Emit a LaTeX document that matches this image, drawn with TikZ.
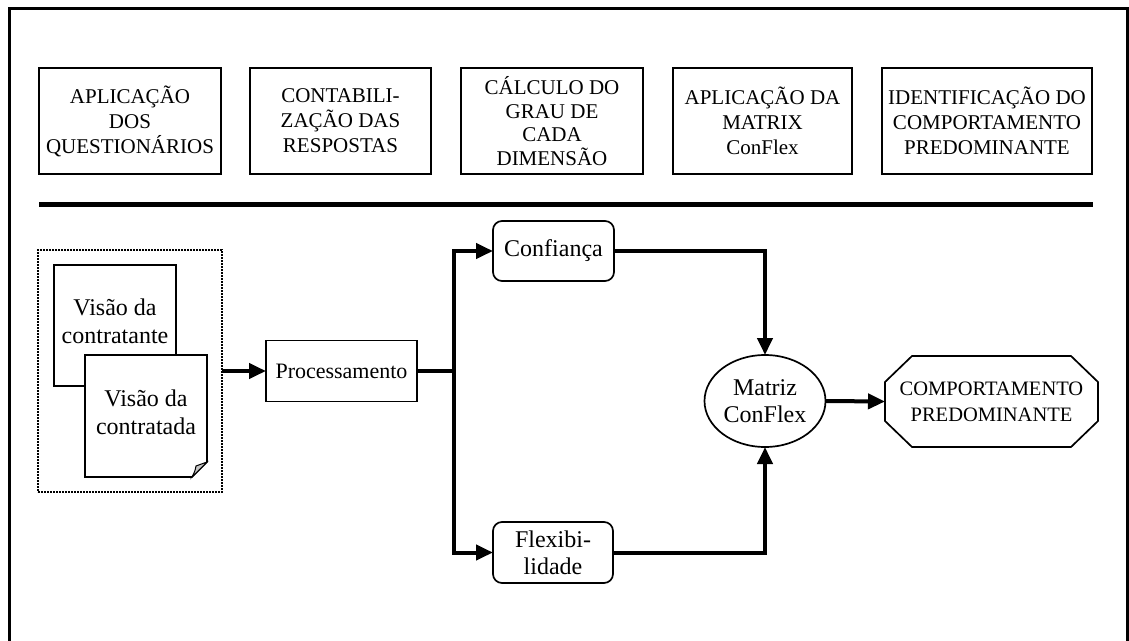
\documentclass[tikz,border=0pt]{standalone}
\usepackage{fontspec}
\setmainfont{Liberation Serif}
\usetikzlibrary{arrows.meta,shapes.geometric,calc}
\begin{document}
\begin{tikzpicture}[x=1pt,y=-1pt,
  stagebox/.style={draw,line width=1.7pt,minimum width=#1,minimum height=106pt,
    inner sep=0pt,outer sep=0pt,align=center,font=\fontsize{21}{25}\selectfont},
  stagebox/.default=182pt,
  plainbox/.style={draw,line width=1.7pt,inner sep=0pt,outer sep=0pt,align=center},
  bigtext/.style={font=\fontsize{24}{28}\selectfont,align=center,inner sep=0pt},
  flow/.style={line width=4pt},
  arr/.style={flow,-{Triangle[length=17pt,width=15pt]}},
  docline/.style={line width=1.7pt,fill=white}
]
\useasboundingbox (0,0) rectangle (1129,640);

% outer frame (open at the bottom)
\draw[line width=3pt] (9,700) -- (9,8) -- (1127,8) -- (1127,700);

% stages of the method
\node[stagebox=182pt] (s1) at (130,121) {APLICAÇÃO\\DOS\\QUESTIONÁRIOS};
\node[stagebox=181pt] (s2) at (340.5,121) {CONTABILI-\\ZAÇÃO DAS\\RESPOSTAS};
\node[stagebox=182pt,font=\fontsize{21}{23.5}\selectfont] (s3) at (552,121) {CÁLCULO DO\\GRAU DE\\CADA\\DIMENSÃO};
\node[stagebox=179pt] (s4) at (762.5,121) {APLICAÇÃO DA\\MATRIX\\ConFlex};
\node[stagebox=210pt] (s5) at (987,121) {IDENTIFICAÇÃO DO\\COMPORTAMENTO\\PREDOMINANTE};

% separator
\coordinate (sepL) at (39,204);
\coordinate (sepR) at (1093,204);
\draw[line width=5pt] (sepL) -- (sepR);

% input documents inside a dotted group
\node[draw,line width=2pt,dash pattern=on 1.6pt off 1.4pt,minimum width=184pt,minimum height=242pt,inner sep=0pt,outer sep=0pt] (grp) at (130,371) {};
\node[draw,line width=1.7pt,fill=white,minimum width=122pt,minimum height=121pt,inner sep=0pt,outer sep=0pt] (doc1) at (115,325.5) {};
\node[bigtext] (doc1t) at (115,321) {Visão da\\contratante};
% second document with folded corner
\coordinate (d2nw) at (85,355);
\coordinate (d2se) at (207,477);
\draw[docline] (d2nw) -- (d2nw -| d2se) -- ($(d2se)+(0,-15)$) -- ($(d2se)+(-15,0)$) -- (d2nw |- d2se) -- cycle;
\draw[line width=1pt,fill=gray!45] ($(d2se)+(0,-15)$) -- ($(d2se)+(-15,0)$)
  .. controls ($(d2se)+(-12,-6)$) .. ($(d2se)+(-11,-11)$) -- cycle;
\node[bigtext] (doc2) at (146,412.5) {Visão da\\contratada};

% processing chain
\node[plainbox,minimum width=151pt,minimum height=61pt,font=\fontsize{22}{26}\selectfont] (proc) at (341.5,371) {Processamento};
\coordinate (split) at (454,371);
\node[plainbox,rounded corners=9pt,minimum width=121pt,minimum height=60pt,font=\fontsize{24}{28}\selectfont] (conf) at (553.5,251) {Confiança};
\node[plainbox,rounded corners=9pt,minimum width=120pt,minimum height=61pt,font=\fontsize{24}{27}\selectfont] (flex) at (553,552.5) {Flexibi-\\lidade};
\node[draw,ellipse,line width=1.7pt,minimum width=121pt,minimum height=92pt,inner sep=0pt,outer sep=0pt,align=center,font=\fontsize{24}{27}\selectfont] (mat) at (765,401) {Matriz\\ConFlex};
\node[inner sep=0pt,outer sep=0pt,minimum width=213pt,minimum height=91pt,align=center,font=\fontsize{20.5}{26}\selectfont] (oct) at (991.5,401.5) {COMPORTAMENTO\\PREDOMINANTE};
\draw[line width=1.7pt] ([xshift=27pt]oct.north west) -- ([xshift=-27pt]oct.north east)
  -- ([yshift=-26pt]oct.north east) -- ([yshift=26pt]oct.south east)
  -- ([xshift=-27pt]oct.south east) -- ([xshift=27pt]oct.south west)
  -- ([yshift=26pt]oct.south west) -- ([yshift=-26pt]oct.north west) -- cycle;

% connectors
\draw[arr] (grp.east) -- (proc.west);
\draw[flow] (proc.east) -- (split);
\draw[arr] (split) |- (conf.west);
\draw[arr] (split) |- (flex.west);
\draw[arr] (conf.east) -| (mat.north);
\draw[arr] (flex.east) -| (mat.south);
\draw[arr] (mat.east) -- (oct.west);
\end{tikzpicture}
\end{document}
